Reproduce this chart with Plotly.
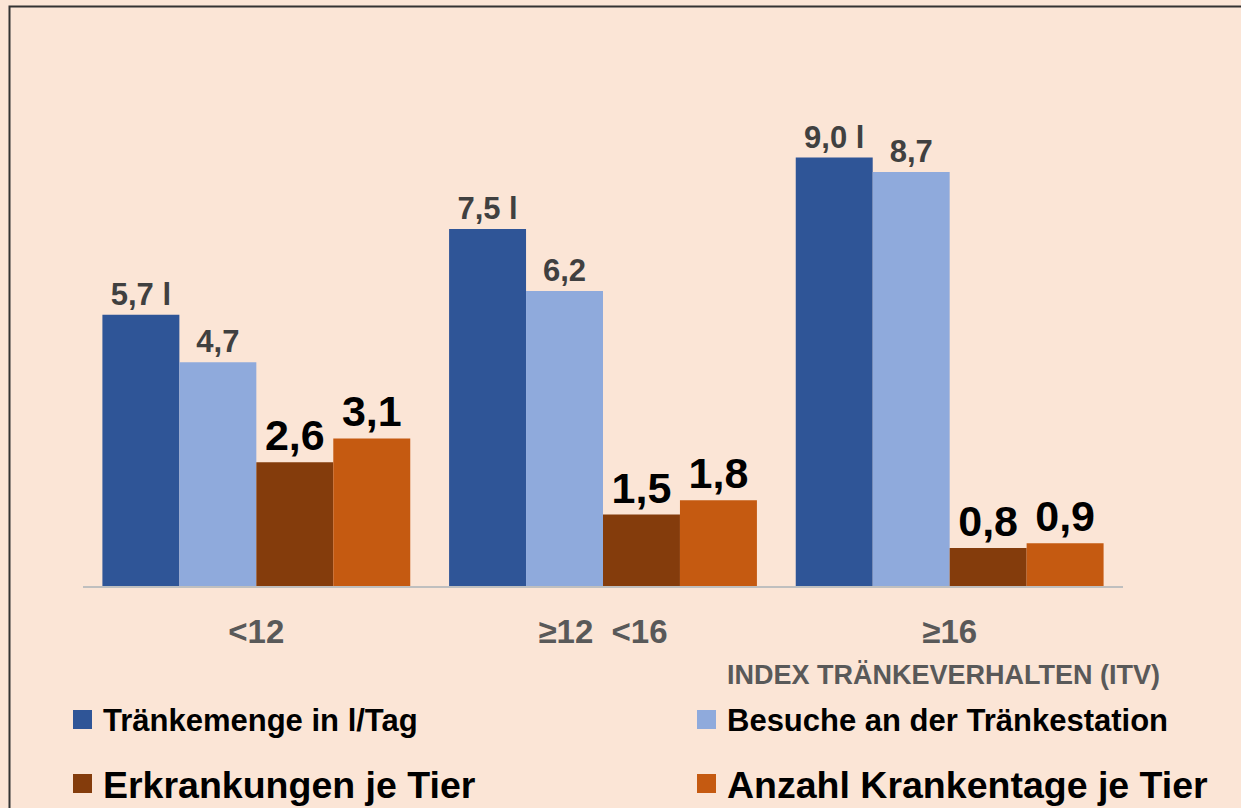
import plotly.graph_objects as go

categories = ["<12", "≥12\u00a0 <16", "≥16"]
series_names = ["Tränkemenge in l/Tag", "Besuche an der Tränkestation",
                "Erkrankungen je Tier", "Anzahl Krankentage je Tier"]
traenkemenge = [5.7, 7.5, 9.0]
besuche = [4.7, 6.2, 8.7]
erkrankungen = [2.6, 1.5, 0.8]
krankentage = [3.1, 1.8, 0.9]
axis_title = "INDEX TRÄNKEVERHALTEN (ITV)"

colors = ["#2F5597", "#8FAADC", "#843C0C", "#C55A11"]
FONT = "Liberation Sans, Arial, sans-serif"
BG = "#FBE5D6"

# plot area in pixels
L, R, T, B = 83, 1123, 110, 586
W, H = 1241, 808


def px_x(px):
    return (px - L) / (R - L)


def px_y(py):
    return (B - py) / (B - T)


def fmt(v, suffix=""):
    return f"{v:.1f}".replace(".", ",") + suffix


values = [traenkemenge, besuche, erkrankungen, krankentage]
suffixes = [" l", "", "", ""]
label_sizes = [31, 31, 43, 43]
label_colors = ["#404040", "#404040", "#000000", "#000000"]

fig = go.Figure()
for i in range(4):
    fig.add_trace(go.Bar(
        name=series_names[i],
        x=categories,
        y=values[i],
        marker=dict(color=colors[i], line=dict(width=0)),
        text=[fmt(v, suffixes[i]) for v in values[i]],
        textposition="outside",
        textfont=dict(family=FONT, size=label_sizes[i], color=label_colors[i], weight="bold"),
        constraintext="none",
        cliponaxis=False,
        showlegend=False,
    ))

# manual legend (two rows, two columns, different font sizes per row)
legend_pos = [(73, 719.5, 19, 31), (697, 719.5, 19, 31),
              (73, 783.5, 19, 37.5), (697, 783.5, 19, 37.5)]
shapes = []
annotations = []
for i, (mx, my, sz, fs) in enumerate(legend_pos):
    shapes.append(dict(
        type="rect", xref="paper", yref="paper",
        x0=px_x(mx), x1=px_x(mx + sz), y0=px_y(my + sz / 2), y1=px_y(my - sz / 2),
        fillcolor=colors[i], line=dict(width=0),
    ))
    annotations.append(dict(
        text=series_names[i], xref="paper", yref="paper",
        x=px_x(mx + sz + 9), y=px_y(my + 1), xanchor="left", yanchor="middle",
        showarrow=False,
        font=dict(family=FONT, size=fs, color="#000000", weight="bold"),
    ))

annotations.append(dict(
    text=axis_title, xref="paper", yref="paper",
    x=px_x(1162), y=px_y(675), xanchor="right", yanchor="middle",
    showarrow=False,
    font=dict(family=FONT, size=27, color="#595959", weight="bold"),
))

shapes.append(dict(
    type="rect", xref="paper", yref="paper",
    x0=px_x(9.5), x1=px_x(1270), y0=px_y(830), y1=px_y(6.5),
    line=dict(color="#333333", width=2), fillcolor="rgba(0,0,0,0)",
    layer="below",
))

fig.update_layout(
    width=W, height=H,
    paper_bgcolor=BG, plot_bgcolor=BG,
    barmode="group", bargap=0.112, bargroupgap=0,
    margin=dict(l=L, r=W - R, t=T, b=H - B, autoexpand=False),
    font=dict(family=FONT),
    showlegend=False,
    xaxis=dict(
        showline=True, linecolor="#BFBFBF", linewidth=1.5,
        ticks="", showgrid=False,
        tickfont=dict(family=FONT, size=33, color="#595959", weight="bold"),
        ticklabelstandoff=16,
    ),
    yaxis=dict(range=[0, 10], visible=False, showgrid=False, zeroline=False),
    annotations=annotations,
    shapes=shapes,
)

fig.write_html(
    "out.html",
    config={"displayModeBar": False},
    post_script="document.body.style.margin='0';document.body.style.overflow='hidden';",
)
